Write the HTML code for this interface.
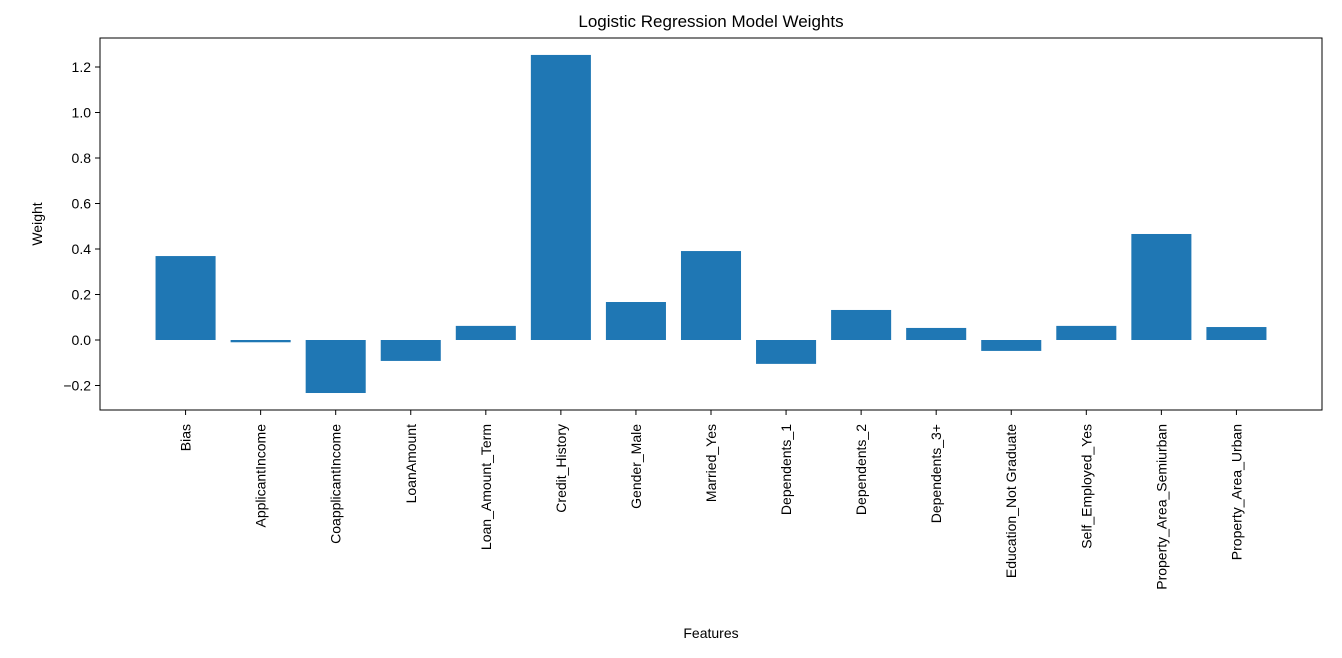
<!DOCTYPE html>
<html><head><meta charset="utf-8"><style>
html,body{margin:0;padding:0;background:#fff;}
svg{display:block;font-family:"Liberation Sans","DejaVu Sans",sans-serif;}
</style></head><body>
<svg id="chart" width="1342" height="658" viewBox="0 0 1342 658" xmlns="http://www.w3.org/2000/svg"></svg>
<script>
const categories = ["Bias","ApplicantIncome","CoapplicantIncome","LoanAmount","Loan_Amount_Term","Credit_History","Gender_Male","Married_Yes","Dependents_1","Dependents_2","Dependents_3+","Education_Not Graduate","Self_Employed_Yes","Property_Area_Semiurban","Property_Area_Urban"];
const weights = [0.369,-0.010,-0.233,-0.092,0.062,1.253,0.167,0.391,-0.105,0.132,0.053,-0.048,0.062,0.466,0.057];
const yTicks = [-0.2,0.0,0.2,0.4,0.6,0.8,1.0,1.2];
const yTickLabels = ["\u22120.2","0.0","0.2","0.4","0.6","0.8","1.0","1.2"];

const svg = document.getElementById('chart');
const NS = "http://www.w3.org/2000/svg";
const L=100,R=1322,T=38,B=410;
const n = categories.length;
const xmin=-0.4-0.74, xmax=(n-1)+0.4+0.74;
const x = v => L + (v - xmin)/(xmax - xmin)*(R-L);
const y = v => 340 - v*227.5;
function mk(tag, attrs, parent){const e=document.createElementNS(NS,tag);for(const k in attrs)e.setAttribute(k,attrs[k]);(parent||svg).appendChild(e);return e;}

const barsG = mk('g',{});


categories.forEach((c,i)=>{
  const v=weights[i];
  const x0=x(i-0.4), x1=x(i+0.4);
  const r=mk('rect',{x:x0,y:Math.min(y(v),y(0)),width:x1-x0,height:Math.abs(y(v)-y(0)),fill:'#1f77b4'},barsG);
  
  
  const tx=x(i);
  mk('line',{x1:tx,x2:tx,y1:B,y2:B+5,stroke:'#000','stroke-width':1});
  const t=mk('text',{x:0,y:0,'font-size':14,'text-anchor':'end',transform:`translate(${tx+5},${B+14}) rotate(-90)`});
  t.textContent=c;
  
  
});
yTicks.forEach((v,i)=>{
  const ty=y(v);
  mk('line',{x1:L-5,x2:L,y1:ty,y2:ty,stroke:'#000','stroke-width':1});
  const t=mk('text',{x:L-9,y:ty+5,'font-size':14,'text-anchor':'end'});
  t.textContent=yTickLabels[i];
  
  
});
const frame=mk('rect',{x:L,y:T,width:R-L,height:B-T,fill:'none',stroke:'#000','stroke-width':1});


const title=mk('text',{x:(L+R)/2,y:27,'font-size':17,'text-anchor':'middle'});
title.textContent='Logistic Regression Model Weights';


const xl=mk('text',{x:(L+R)/2,y:638,'font-size':14,'text-anchor':'middle'});
xl.textContent='Features';


const yl=mk('text',{x:0,y:0,'font-size':14,'text-anchor':'middle',transform:'translate(42,224) rotate(-90)'});
yl.textContent='Weight';


</script>
</body></html>
